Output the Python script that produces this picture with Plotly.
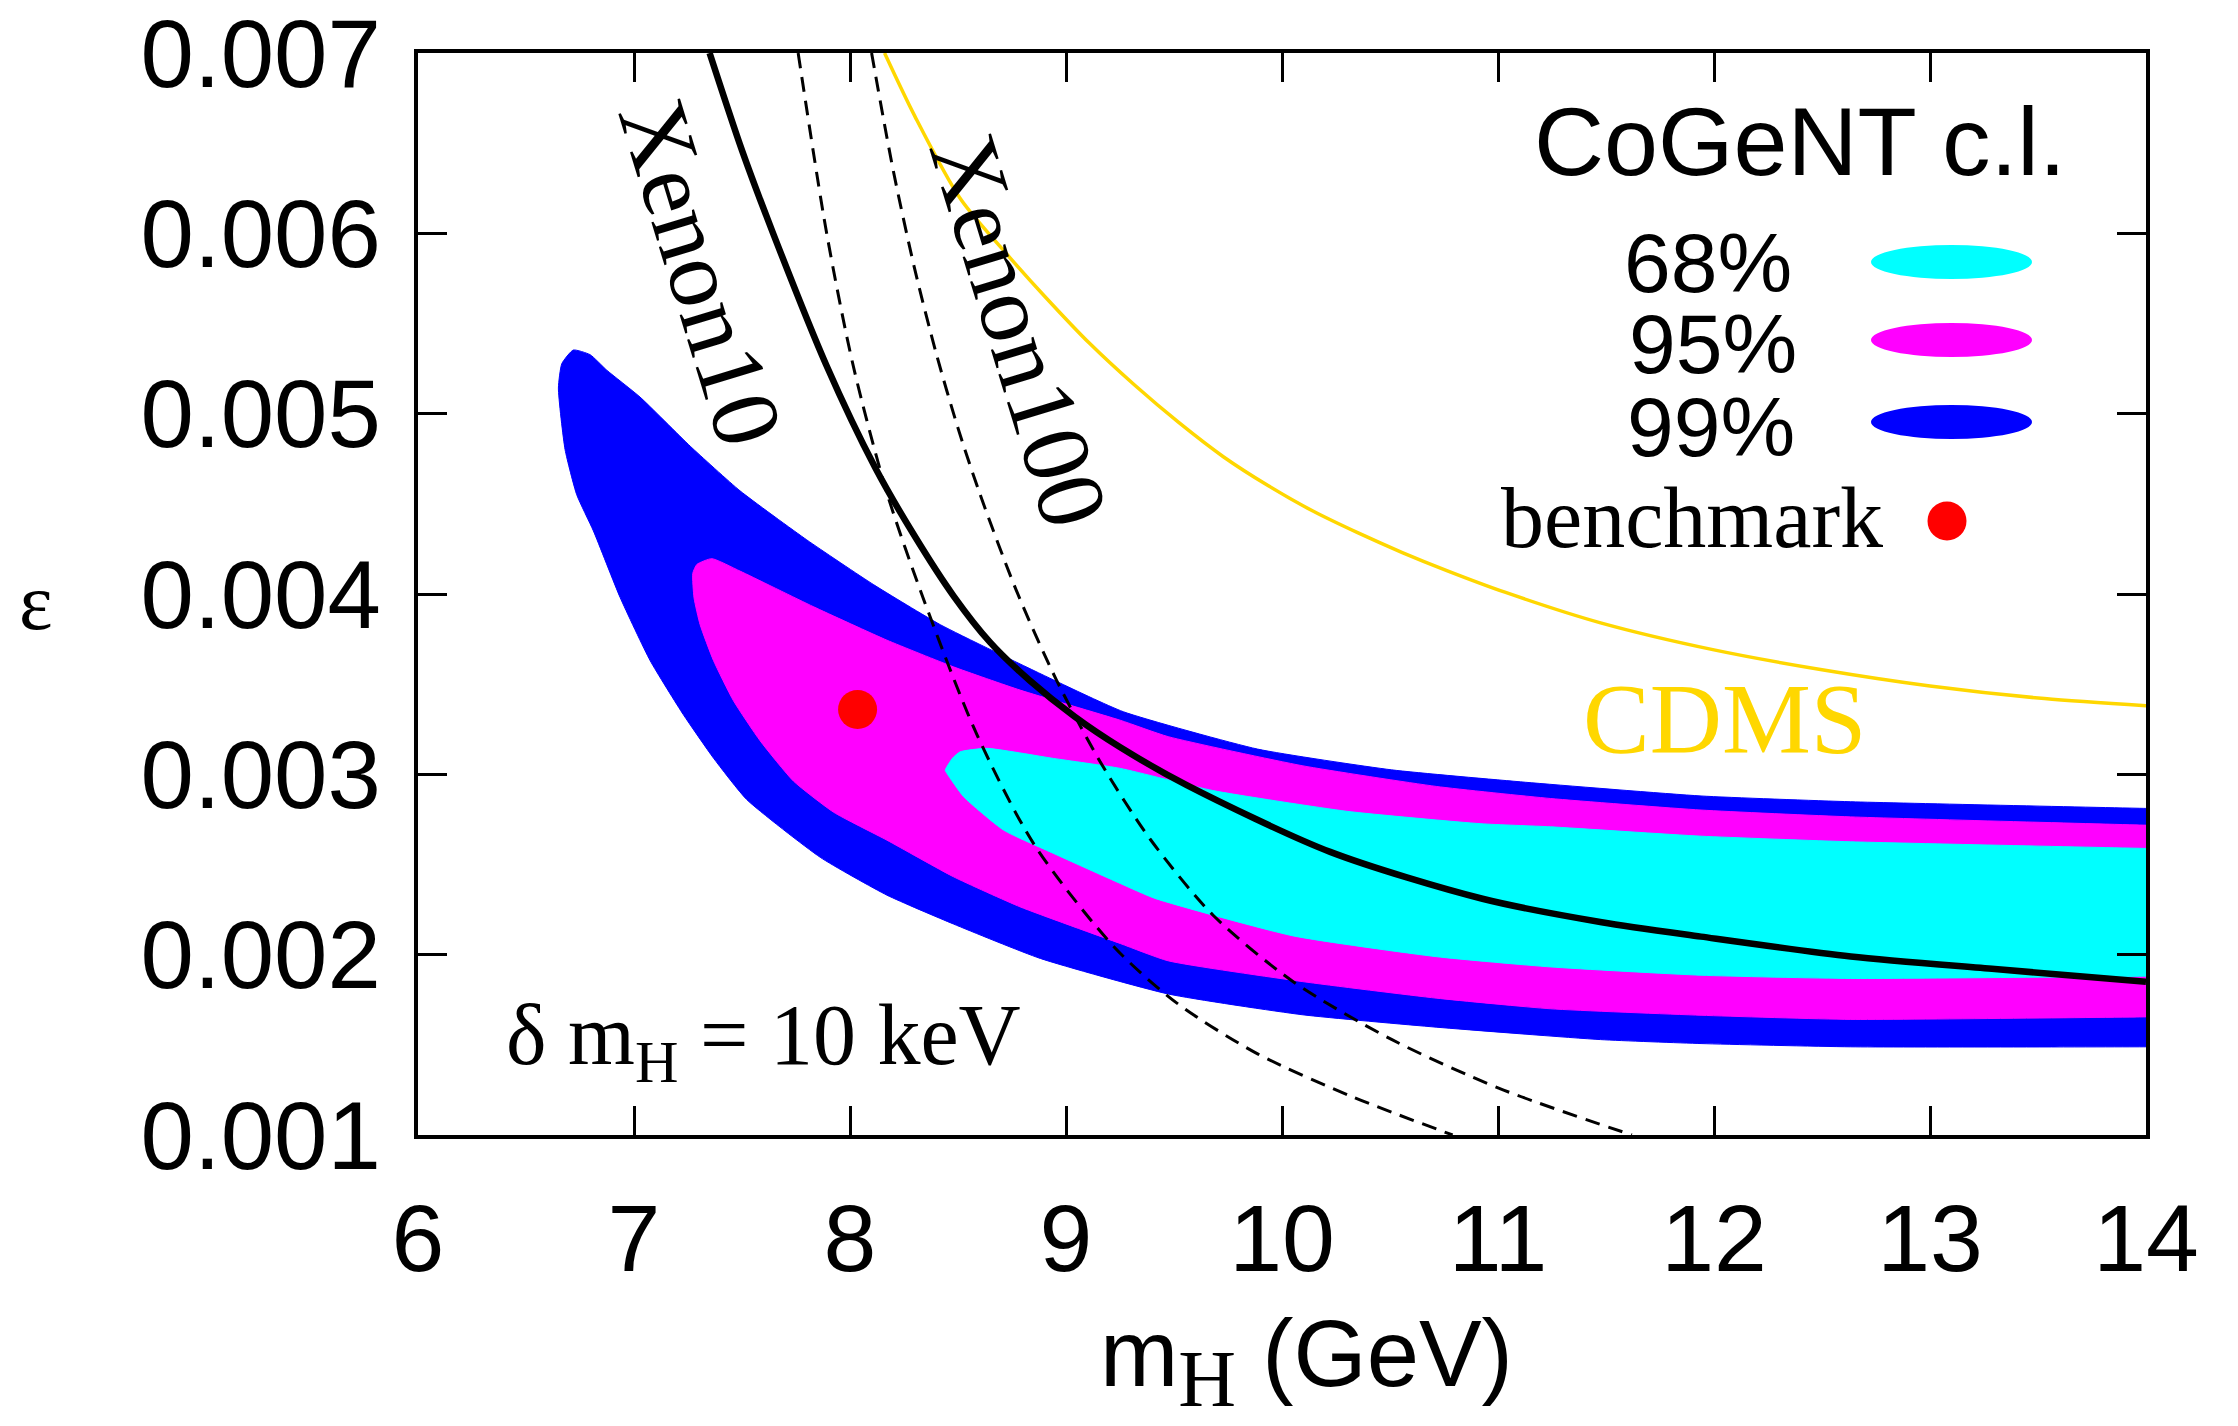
import plotly.graph_objects as go

# ---------------- data ----------------
# 99% CoGeNT region (blue): upper edge left->right, lower edge right->left
cl99_upper_x = [6.650, 6.666, 6.719, 6.797, 6.874, 7.028, 7.260, 7.491, 7.800, 8.109, 8.418,
                8.943, 9.266, 9.887, 10.507, 11.128, 11.94, 12.633, 14.0]
cl99_upper_y = [0.005142, 0.005278, 0.005353, 0.005327, 0.005241, 0.005092, 0.00482, 0.004572,
                0.0043, 0.004052, 0.00383, 0.003523, 0.003347, 0.00314, 0.003025, 0.002956,
                0.00288, 0.002848, 0.002811]
cl99_lower_x = [14.0, 12.633, 11.94, 11.475, 10.714, 10.093, 9.473, 8.881, 8.479, 8.171, 7.862,
                7.522, 7.368, 7.229, 7.075, 6.936, 6.812, 6.735, 6.681, 6.650]
cl99_lower_y = [0.001489, 0.001489, 0.001507, 0.001529, 0.001598, 0.001667, 0.001782, 0.001979,
                0.00217, 0.00233, 0.00254, 0.00286, 0.00309, 0.00333, 0.00363, 0.00398, 0.00435,
                0.00455, 0.00480, 0.005142]

# 95% region (magenta)
cl95_upper_x = [7.272, 7.291, 7.360, 7.491, 7.830, 8.171, 8.479, 8.788, 9.251, 9.473, 10.093,
                10.714, 11.243, 11.94, 12.633, 14.0]
cl95_upper_y = [0.004114, 0.004164, 0.004196, 0.004127, 0.00393, 0.003744, 0.003596, 0.003467,
                0.0033, 0.003209, 0.003048, 0.002933, 0.002866, 0.002802, 0.002764, 0.002718]
cl95_lower_x = [14.0, 12.633, 11.94, 11.243, 10.714, 10.093, 9.473, 9.251, 8.788, 8.479, 8.171,
                7.924, 7.738, 7.584, 7.460, 7.368, 7.306, 7.278, 7.272]
cl95_lower_y = [0.001655, 0.001641, 0.001664, 0.0017, 0.001759, 0.001851, 0.001966, 0.002062,
                0.002265, 0.002432, 0.002635, 0.00279, 0.002963, 0.003186, 0.003409, 0.003631,
                0.00383, 0.003978, 0.004114]

# 68% region (cyan)
cl68_upper_x = [8.441, 8.475, 8.510, 8.634, 8.943, 9.251, 9.680, 10.300, 10.921, 11.243, 11.94,
                12.633, 14.0]
cl68_upper_y = [0.003023, 0.00309, 0.003125, 0.003144, 0.003088, 0.003033, 0.00291, 0.002795,
                0.002726, 0.002709, 0.002657, 0.002626, 0.002589]
cl68_lower_x = [14.0, 12.633, 11.94, 11.243, 10.714, 10.052, 9.412, 9.251, 8.943, 8.711, 8.526,
                8.449, 8.441]
cl68_lower_y = [0.001881, 0.001868, 0.001886, 0.001932, 0.001989, 0.002104, 0.002312, 0.002395,
                0.002561, 0.002691, 0.002876, 0.003005, 0.003023]

# Xenon10 limit (solid)
xenon10_x = [7.35, 7.50, 7.644, 7.890, 8.117, 8.30, 8.479, 8.65, 8.832, 9.04, 9.251, 9.559,
             10.223, 10.928, 11.48, 11.94, 12.633, 13.3, 14.0]
xenon10_y = [0.00700, 0.00646, 0.00600, 0.00527, 0.00470, 0.00432, 0.00399, 0.00373, 0.00352,
             0.00332, 0.00315, 0.00294, 0.00257, 0.00231, 0.00218, 0.00210, 0.00199, 0.00192,
             0.00185]

# Xenon100 limits (dashed)
xenon100a_x = [7.76, 7.892, 8.016, 8.171, 8.341, 8.584, 8.853, 9.225, 9.515, 9.887, 10.33,
               10.79]
xenon100a_y = [0.00700, 0.00600, 0.00526, 0.00456, 0.00397, 0.00323, 0.00261, 0.00204,
               0.00173, 0.00145, 0.00121, 0.00100]
xenon100b_x = [8.10, 8.20, 8.30, 8.40, 8.50, 8.60, 8.77, 8.957, 9.163, 9.39, 9.68, 10.052,
               10.507, 11.003, 11.62]
xenon100b_y = [0.00700, 0.00635, 0.00580, 0.00533, 0.00492, 0.00456, 0.00402, 0.00352, 0.00306,
               0.00264, 0.00222, 0.00185, 0.00153, 0.00126, 0.00100]

# CDMS limit (gold)
cdms_x = [8.16, 8.30, 8.512, 8.737, 8.902, 9.109, 9.316, 9.523, 9.730, 9.937, 10.143, 10.35,
          10.557, 10.763, 11.032, 11.475, 12.0, 12.5, 13.0, 13.53, 14.0]
cdms_y = [0.00700, 0.00665, 0.00619, 0.00587, 0.00565, 0.00539, 0.00516, 0.00495, 0.00476,
          0.00460, 0.00446, 0.00434, 0.00423, 0.00413, 0.00401, 0.00384, 0.00369, 0.00358,
          0.00349, 0.00342, 0.00338]

# benchmark point
bench_x = [8.035]
bench_y = [0.00336]

x_ticks = [6, 7, 8, 9, 10, 11, 12, 13, 14]
y_ticks = [0.001, 0.002, 0.003, 0.004, 0.005, 0.006, 0.007]
y_tick_text = ["0.001", "0.002", "0.003", "0.004", "0.005", "0.006", "0.007"]

legend_labels = ["68%", "95%", "99%"]
legend_colors = ["#00FFFF", "#FF00FF", "#0000FF"]

# ---------------- layout geometry ----------------
W, H = 2238, 1426
L, R, T, B = 418, 2146, 53, 1135
SANS = "Liberation Sans, Arial, sans-serif"
SERIF = "Liberation Serif, Times New Roman, serif"


def pxx(p):
    return (p - L) / (R - L)


def pxy(p):
    return (B - p) / (B - T)


fig = go.Figure()


def region(ux, uy, lx, ly, color):
    # repeat the two clipped right-edge corners so the smoothed outline keeps square corners
    xs = ux + [ux[-1]] + [lx[0]] + lx
    ys = uy + [uy[-1]] + [ly[0]] + ly
    fig.add_trace(go.Scatter(x=xs, y=ys, mode="lines", fill="toself",
                             fillcolor=color,
                             line=dict(color=color, width=1, shape="spline", smoothing=0.5,
                                       simplify=False),
                             hoverinfo="skip", showlegend=False))


region(cl99_upper_x, cl99_upper_y, cl99_lower_x, cl99_lower_y, "#0000FF")
region(cl95_upper_x, cl95_upper_y, cl95_lower_x, cl95_lower_y, "#FF00FF")
region(cl68_upper_x, cl68_upper_y, cl68_lower_x, cl68_lower_y, "#00FFFF")

fig.add_trace(go.Scatter(x=cdms_x, y=cdms_y, mode="lines",
                         line=dict(color="#FFD700", width=3.5, shape="spline", smoothing=0.8),
                         showlegend=False))
for xs, ys in [(xenon100a_x, xenon100a_y), (xenon100b_x, xenon100b_y)]:
    fig.add_trace(go.Scatter(x=xs, y=ys, mode="lines",
                             line=dict(color="black", width=3, dash="15px,9px",
                                       shape="spline", smoothing=0.8),
                             showlegend=False))
fig.add_trace(go.Scatter(x=xenon10_x, y=xenon10_y, mode="lines",
                         line=dict(color="black", width=6.5, shape="spline", smoothing=0.8),
                         showlegend=False))
fig.add_trace(go.Scatter(x=bench_x, y=bench_y, mode="markers",
                         marker=dict(color="#FF0000", size=39, line=dict(width=0)),
                         showlegend=False))


def ann(x, y, text, font, xref="x", yref="y", xanchor="center", yanchor="middle", angle=0):
    return dict(x=x, y=y, xref=xref, yref=yref, text=text, showarrow=False, font=font,
                xanchor=xanchor, yanchor=yanchor, textangle=angle)


annotations = [
    ann(7.309, 0.005783, "Xenon10", dict(family=SERIF, size=97, color="black"), angle=73),
    ann(8.782, 0.005461, "Xenon100", dict(family=SERIF, size=97, color="black"), angle=73),
    ann(12.049, 0.00331, "CDMS", dict(family=SERIF, size=100, color="#FFD700")),
    ann(6.40, 0.00152, "δ m<sub>H</sub> = 10 keV", dict(family=SERIF, size=86, color="black"),
        xanchor="left"),
    ann(pxx(2068), pxy(141), "CoGeNT c.l.", dict(family=SANS, size=97, color="black"),
        xref="paper", yref="paper", xanchor="right"),
    ann(pxx(1885), pxy(518), "benchmark", dict(family=SERIF, size=86, color="black"),
        xref="paper", yref="paper", xanchor="right"),
    ann(pxx(36), pxy(602), "ε", dict(family=SERIF, size=80, color="black"),
        xref="paper", yref="paper"),
    # x-axis title
    ann(pxx(1098), pxy(1362),
        "m<sub><span style='font-family:Liberation Serif;font-size:80px'>H</span></sub> (GeV)",
        dict(family=SANS, size=94, color="black"), xref="paper", yref="paper",
        xanchor="left"),
]
label_rights = [1794, 1799, 1797]
label_centers = [263, 344, 427]
swatch_centers = [262, 340, 422]
shapes = []
for lab, col, xr, yc, sc in zip(legend_labels, legend_colors, label_rights, label_centers,
                                swatch_centers):
    annotations.append(ann(pxx(xr), pxy(yc), lab, dict(family=SANS, size=84, color="black"),
                           xref="paper", yref="paper", xanchor="right"))
    shapes.append(dict(type="circle", xref="paper", yref="paper",
                       x0=pxx(1871), x1=pxx(2032), y0=pxy(sc + 17), y1=pxy(sc - 17),
                       fillcolor=col, line=dict(width=0)))
shapes.append(dict(type="circle", xref="paper", yref="paper",
                   x0=pxx(1927.5), x1=pxx(1966.5), y0=pxy(540.5), y1=pxy(501.5),
                   fillcolor="#FF0000", line=dict(width=0)))

fig.update_layout(
    width=W, height=H,
    margin=dict(l=L, r=W - R, t=T, b=H - B, autoexpand=False),
    paper_bgcolor="white", plot_bgcolor="white",
    showlegend=False,
    annotations=annotations,
    shapes=shapes,
    xaxis=dict(range=[6, 14], tickvals=x_ticks, ticks="inside", ticklen=29, tickwidth=3,
               tickcolor="black", showline=True, linewidth=4, linecolor="black",
               mirror="ticks", showgrid=False, zeroline=False, automargin=False,
               tickfont=dict(family=SANS, size=95, color="black"),
               ticklabelstandoff=18, ticklabeloverflow="allow"),
    yaxis=dict(range=[0.001, 0.007], tickvals=y_ticks, ticktext=y_tick_text, ticks="inside",
               ticklen=29, tickwidth=3, tickcolor="black", showline=True, linewidth=4,
               linecolor="black", mirror="ticks", showgrid=False, zeroline=False,
               automargin=False,
               tickfont=dict(family=SANS, size=96, color="black"),
               ticklabelstandoff=14, ticklabeloverflow="allow"),
)

fig.write_html("out.html", config={"displayModeBar": False},
               post_script="document.body.style.margin='0px';")
